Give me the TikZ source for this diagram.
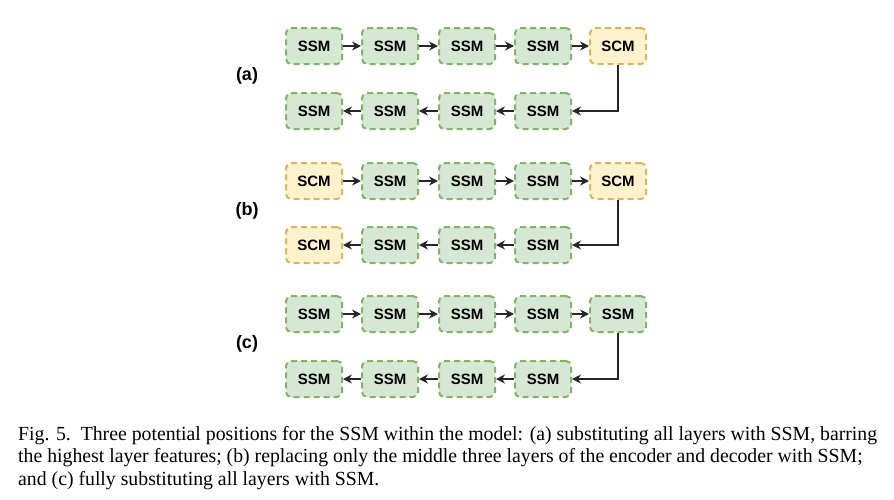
\documentclass[tikz,border=0pt]{standalone}
\usepackage{fontspec}
\setmainfont{Liberation Serif}
\setsansfont{Liberation Sans}
\usetikzlibrary{arrows.meta}

\definecolor{ssmfill}{HTML}{D5E8D4}
\definecolor{ssmline}{HTML}{82B366}
\definecolor{scmfill}{HTML}{FFF2CC}
\definecolor{scmline}{HTML}{D6B656}

\tikzset{
	layer/.style={rounded corners=5pt, line width=2pt, dash pattern=on 6pt off 4pt, minimum width=56pt, minimum height=36pt, font=\sffamily\bfseries\fontsize{15}{17}\selectfont, inner sep=0pt},
	ssm/.style={layer, draw=ssmline, fill=ssmfill},
	scm/.style={layer, draw=scmline, fill=scmfill},
	flow/.style={-{Stealth[length=9pt,width=9pt]}, line width=1.2pt, black!85},
	tag/.style={font=\sffamily\bfseries\fontsize{18}{20}\selectfont}
}

\begin{document}
\begin{tikzpicture}[x=1pt,y=-1pt]
		\useasboundingbox (0,0) rectangle (894,499);
		% (a)
		\node[tag] (la) at (247,76) {(a)};
		\node[ssm] (a1) at (314,46) {SSM};
		\node[ssm] (a2) at (390,46) {SSM};
		\node[ssm] (a3) at (467,46) {SSM};
		\node[ssm] (a4) at (543,46) {SSM};
		\node[scm] (a5) at (618,46) {SCM};
		\node[ssm] (a6) at (543,111) {SSM};
		\node[ssm] (a7) at (467,111) {SSM};
		\node[ssm] (a8) at (390,111) {SSM};
		\node[ssm] (a9) at (314,111) {SSM};
		\draw[flow] (a1) to (a2);
		\draw[flow] (a2) to (a3);
		\draw[flow] (a3) to (a4);
		\draw[flow] (a4) to (a5);
		\draw[flow] (a5.south) |- (a6.east);
		\draw[flow] (a6) to (a7);
		\draw[flow] (a7) to (a8);
		\draw[flow] (a8) to (a9);
		% (b)
		\node[tag] (lb) at (247,211) {(b)};
		\node[scm] (b1) at (314,181) {SCM};
		\node[ssm] (b2) at (390,181) {SSM};
		\node[ssm] (b3) at (467,181) {SSM};
		\node[ssm] (b4) at (543,181) {SSM};
		\node[scm] (b5) at (618,181) {SCM};
		\node[ssm] (b6) at (543,245) {SSM};
		\node[ssm] (b7) at (467,245) {SSM};
		\node[ssm] (b8) at (390,245) {SSM};
		\node[scm] (b9) at (314,245) {SCM};
		\draw[flow] (b1) to (b2);
		\draw[flow] (b2) to (b3);
		\draw[flow] (b3) to (b4);
		\draw[flow] (b4) to (b5);
		\draw[flow] (b5.south) |- (b6.east);
		\draw[flow] (b6) to (b7);
		\draw[flow] (b7) to (b8);
		\draw[flow] (b8) to (b9);
		% (c)
		\node[tag] (lc) at (247,344) {(c)};
		\node[ssm] (c1) at (314,314) {SSM};
		\node[ssm] (c2) at (390,314) {SSM};
		\node[ssm] (c3) at (467,314) {SSM};
		\node[ssm] (c4) at (543,314) {SSM};
		\node[ssm] (c5) at (618,314) {SSM};
		\node[ssm] (c6) at (543,379) {SSM};
		\node[ssm] (c7) at (467,379) {SSM};
		\node[ssm] (c8) at (390,379) {SSM};
		\node[ssm] (c9) at (314,379) {SSM};
		\draw[flow] (c1) to (c2);
		\draw[flow] (c2) to (c3);
		\draw[flow] (c3) to (c4);
		\draw[flow] (c4) to (c5);
		\draw[flow] (c5.south) |- (c6.east);
		\draw[flow] (c6) to (c7);
		\draw[flow] (c7) to (c8);
		\draw[flow] (c8) to (c9);
		% caption
		\node[anchor=north west, align=left, inner sep=0pt, xscale=0.988, font=\fontsize{20}{22.5}\selectfont, text=black] (cap) at (18,426) {Fig. 5.\ \ Three potential positions for the SSM within the model: (a) substituting all layers with SSM, barring\\the highest layer features; (b) replacing only the middle three layers of the encoder and decoder with SSM;\\and (c) fully substituting all layers with SSM.};
		\end{tikzpicture}
\end{document}
